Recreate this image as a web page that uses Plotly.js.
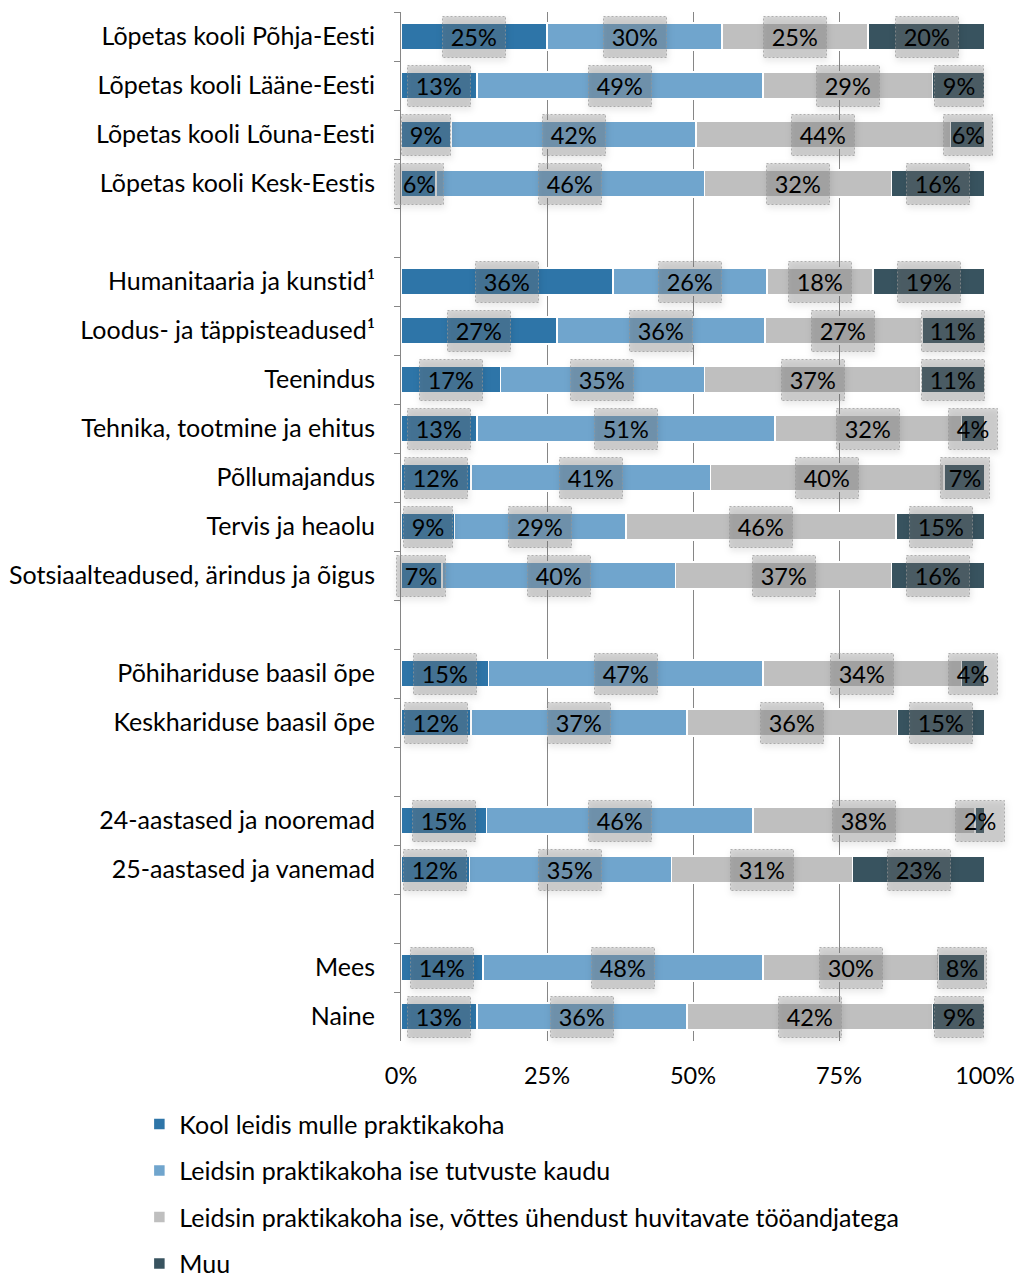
<!DOCTYPE html>
<html>
<head>
<meta charset="utf-8">
<script src="https://cdn.plot.ly/plotly-3.0.1.min.js"></script>
<style>
html,body{margin:0;padding:0;background:#fff;}
#chart{width:1019px;height:1281px;}
text{font-variant-ligatures:none;font-feature-settings:"liga" 0;}
g.annotation rect.bg{stroke-dasharray:2 2;filter:drop-shadow(1px 3px 3px rgba(0,0,0,0.28));}
</style>
</head>
<body>
<div id="chart"></div>
<script>
const categories = [
  'Lõpetas kooli Põhja-Eesti', 'Lõpetas kooli Lääne-Eesti', 'Lõpetas kooli Lõuna-Eesti', 'Lõpetas kooli Kesk-Eestis',
  ' ',
  'Humanitaaria ja kunstid¹', 'Loodus- ja täppisteadused¹', 'Teenindus', 'Tehnika, tootmine ja ehitus',
  'Põllumajandus', 'Tervis ja heaolu', 'Sotsiaalteadused, ärindus ja õigus',
  '  ',
  'Põhihariduse baasil õpe', 'Keskhariduse baasil õpe',
  '   ',
  '24-aastased ja nooremad', '25-aastased ja vanemad',
  '    ',
  'Mees', 'Naine'
];
const seriesNames = [
  'Kool leidis mulle praktikakoha',
  'Leidsin praktikakoha ise tutvuste kaudu',
  'Leidsin praktikakoha ise, võttes ühendust huvitavate tööandjatega',
  'Muu'
];
const kool   = [25, 13, 8.6, 6, null, 36.3, 26.7, 17, 13, 12, 9.2, 7, null, 15, 12, null, 14.6, 11.7, null, 14, 13];
const tutvus = [30, 49, 41.9, 46, null, 26.4, 35.6, 35, 51, 41, 29.3, 40, null, 47, 37, null, 45.7, 34.6, null, 48, 36];
const ise    = [25, 29, 43.6, 32, null, 18.1, 26.9, 37, 32, 40, 46.3, 37, null, 34, 36, null, 38.0, 31.0, null, 30, 42];
const muu    = [20, 9, 5.9, 16, null, 19.2, 10.8, 11, 4, 7, 15.2, 16, null, 4, 15, null, 1.7, 22.7, null, 8, 9];
const xTicks = [0, 25, 50, 75, 100];
const xTickText = ['0%', '25%', '50%', '75%', '100%'];

const colors = ['#2E75A8', '#70A5CD', '#BFBFBF', '#38535F'];
const allSeries = [kool, tutvus, ise, muu];
const FONT = 'Lato, "Open Sans", sans-serif';

const traces = allSeries.map((vals, k) => ({
  type: 'bar',
  orientation: 'h',
  name: seriesNames[k],
  legendgroup: 'g' + k,
  y: categories,
  x: vals,
  marker: {color: colors[k], line: {color: '#ffffff', width: 1.5}},
  width: 0.56,
  hoverinfo: 'skip'
}));

const annotations = [];
categories.forEach((cat, i) => {
  let start = 0;
  allSeries.forEach((vals) => {
    const v = vals[i];
    if (v === null || v === undefined) return;
    const txt = Math.round(v) + '%';
    annotations.push({
      x: start + v / 2, y: cat, xref: 'x', yref: 'y',
      text: txt, showarrow: false,
      font: {family: FONT, size: 23.5, color: '#000'},
      bgcolor: 'rgba(125,125,125,0.30)',
      bordercolor: 'rgba(150,150,150,0.7)', borderwidth: 1, borderpad: 0,
      width: 13.5 * txt.length + 21, height: 40
    });
    start += v;
  });
});

const layout = {
  width: 1019, height: 1281,
  margin: {l: 401, r: 34, t: 12, b: 240, autoexpand: false},
  paper_bgcolor: '#fff', plot_bgcolor: '#fff',
  barmode: 'stack',
  font: {family: FONT, size: 25, color: '#000'},
  showlegend: true,
  legend: {
    orientation: 'v', traceorder: 'grouped', tracegroupgap: 11,
    x: -0.448, xanchor: 'left', y: -0.0585, yanchor: 'top',
    font: {family: FONT, size: 25, color: '#000'},
    bgcolor: 'rgba(0,0,0,0)'
  },
  xaxis: {
    range: [0, 100], tickvals: xTicks, ticktext: xTickText,
    showgrid: true, gridcolor: '#868686', gridwidth: 1,
    zeroline: false, showline: false, ticks: '',
    tickfont: {family: FONT, size: 23.5, color: '#000'},
    ticklabelstandoff: 18, fixedrange: true
  },
  yaxis: {
    type: 'category', autorange: 'reversed',
    showline: true, linecolor: '#868686', linewidth: 1,
    ticks: 'outside', ticklen: 6, tickcolor: '#868686', tickson: 'boundaries',
    showgrid: false, zeroline: false,
    tickfont: {family: FONT, size: 25, color: '#000'},
    ticklabelstandoff: 20, fixedrange: true
  },
  annotations: annotations
};

Plotly.newPlot('chart', traces, layout, {displayModeBar: false, staticPlot: true});
</script>
</body>
</html>
